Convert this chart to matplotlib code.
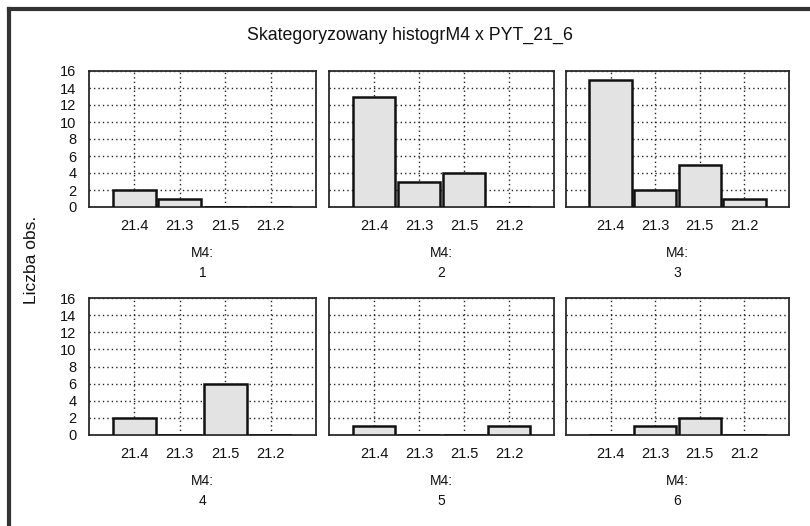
import matplotlib.pyplot as plt
from matplotlib.lines import Line2D

plt.rcParams["font.family"] = ["Liberation Sans", "DejaVu Sans"]

categories = ["21.4", "21.3", "21.5", "21.2"]
groups = ["1", "2", "3", "4", "5", "6"]
counts_1 = [2, 1, 0, 0]
counts_2 = [13, 3, 4, 0]
counts_3 = [15, 2, 5, 1]
counts_4 = [2, 0, 6, 0]
counts_5 = [1, 0, 0, 1]
counts_6 = [0, 1, 2, 0]
all_counts = [counts_1, counts_2, counts_3, counts_4, counts_5, counts_6]
y_ticks = [0, 2, 4, 6, 8, 10, 12, 14, 16]

W, H = 810, 526
fig = plt.figure(figsize=(W / 100, H / 100), dpi=100)

# panel boxes in pixel coords (left, right, top, bottom)
cols = [(89, 316), (329, 554), (566, 789)]
rows = [(71, 207), (298, 435)]

for i, counts in enumerate(all_counts):
    r, c = divmod(i, 3)
    x0, x1 = cols[c]
    t, b = rows[r]
    ax = fig.add_axes([x0 / W, 1 - b / H, (x1 - x0) / W, (b - t) / H])
    pos = list(range(1, len(categories) + 1))
    ax.bar(pos, counts, width=0.95, color="#e3e3e3", edgecolor="#111111", linewidth=1.8, zorder=3)
    ax.set_xlim(0, 5)
    ax.set_ylim(0, 16)
    ax.set_xticks(pos)
    ax.set_xticklabels(categories, fontsize=10.5, color="#111111")
    ax.set_yticks(y_ticks)
    if c == 0:
        ax.set_yticklabels([str(v) for v in y_ticks], fontsize=10.5, color="#111111")
    else:
        ax.set_yticklabels([])
    ax.tick_params(axis="both", length=0)
    ax.tick_params(axis="x", pad=9)
    ax.tick_params(axis="y", pad=9)
    ax.grid(True, color="#222222", linestyle=(0, (1, 2.2)), linewidth=1.0, zorder=0)
    for s in ax.spines.values():
        s.set_linewidth(1.3)
        s.set_color("#2a2a2a")
    cx = (x0 + x1) / 2 / W
    fig.text(cx, 1 - (b + 46) / H, "M4:", ha="center", va="center", fontsize=10, color="#111111")
    fig.text(cx, 1 - (b + 66) / H, groups[i], ha="center", va="center", fontsize=10, color="#111111")

fig.text(410 / W, 1 - 35 / H, "Skategoryzowany histogrM4 x PYT_21_6", ha="center", va="center",
         fontsize=12.8, color="#111111")
fig.text(32 / W, 1 - 260 / H, "Liczba obs.", rotation=90, ha="center", va="center",
         fontsize=12.5, color="#111111")

# outer frame (top and left edges visible)
fig.add_artist(Line2D([9 / W, 1], [1 - 9 / H, 1 - 9 / H], color="#333333", linewidth=3))
fig.add_artist(Line2D([9 / W, 9 / W], [0, 1 - 9 / H], color="#333333", linewidth=3))

fig.savefig("out.png", dpi=100)
